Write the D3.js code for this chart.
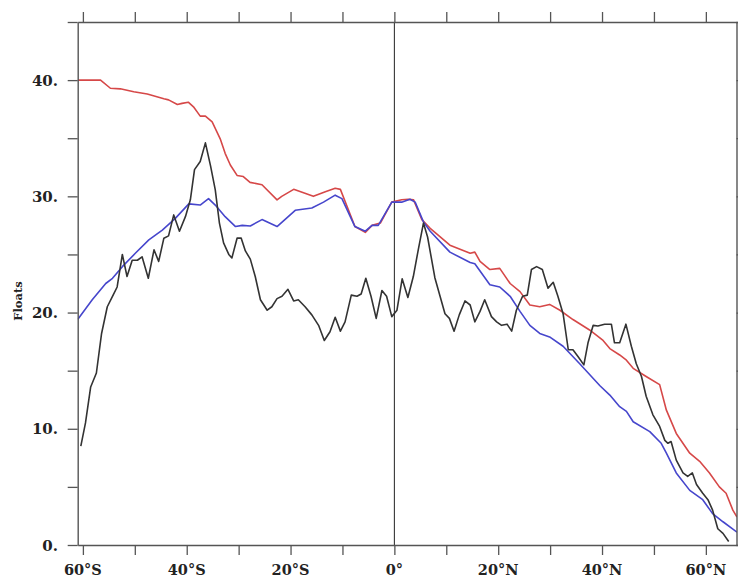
<!DOCTYPE html>
<html>
<head>
<meta charset="utf-8">
<script src="https://cdn.jsdelivr.net/npm/d3@7"></script>
<style>
  html, body { margin: 0; padding: 0; background: #fff; }
  svg { display: block; }
</style>
</head>
<body>
<svg id="chart" width="738" height="579"></svg>
<script>
// ---- data ----
const redLat = [-61, -56.6, -54.7, -52.8, -50.2, -47.6, -44.4, -43.5, -41.8, -40.9, -39.7, -38.7, -37.4, -36.4, -35.1, -33.5, -32.6, -31.6, -30.3, -29.1, -27.8, -25.5, -22.6, -21.7, -19.4, -15.6, -13.3, -11.4, -10.4, -7.6, -5.6, -4.3, -2.7, -0.5, 1.4, 2.7, 3.7, 5.3, 6.9, 10.7, 14.6, 15.5, 16.5, 18.4, 20.3, 22.3, 24.2, 26.1, 28.0, 29.9, 31.9, 34.4, 37.6, 40.2, 41.5, 43.4, 44.7, 46.0, 48.5, 51.1, 52.4, 54.3, 56.9, 58.8, 60.7, 62.6, 63.9, 65.2, 66];
const redVal = [40, 40, 39.3, 39.25, 39.0, 38.8, 38.4, 38.3, 37.9, 38.0, 38.1, 37.7, 36.9, 36.9, 36.4, 34.9, 33.7, 32.7, 31.8, 31.7, 31.2, 31.0, 29.7, 30.0, 30.6, 30.0, 30.4, 30.7, 30.6, 27.4, 26.9, 27.5, 27.7, 29.5, 29.7, 29.75, 29.7, 28.0, 27.25, 25.8, 25.1, 25.2, 24.4, 23.7, 23.8, 22.5, 21.8, 20.65, 20.5, 20.7, 20.2, 19.4, 18.5, 17.6, 16.9, 16.35, 15.9, 15.2, 14.5, 13.8, 11.6, 9.6, 7.9, 7.2, 6.2, 5.0, 4.45, 3.0, 2.4];

const blueLat = [-61, -58.2, -55.6, -54.3, -52.4, -49.9, -47.3, -44.7, -42.2, -39.6, -37.4, -35.8, -34.5, -32.6, -30.6, -29.3, -27.75, -25.5, -22.6, -19.1, -15.9, -13.65, -11.4, -10.1, -7.6, -5.6, -4.3, -3.1, -0.5, 1.4, 3.0, 4.0, 5.6, 6.9, 10.7, 14.6, 15.5, 18.4, 20.3, 22.3, 24.2, 26.1, 28.0, 29.9, 32.5, 35.7, 39.6, 41.5, 43.4, 44.7, 46.0, 49.2, 51.4, 52.4, 54.3, 56.9, 59.4, 61.3, 63.3, 66];
const blueVal = [19.4, 21.1, 22.5, 22.95, 23.95, 25.1, 26.25, 27.1, 28.1, 29.35, 29.25, 29.8, 29.25, 28.25, 27.4, 27.5, 27.45, 28.0, 27.4, 28.8, 29.0, 29.5, 30.1, 29.8, 27.4, 27.0, 27.5, 27.5, 29.5, 29.5, 29.75, 29.5, 27.8, 27.0, 25.2, 24.3, 24.2, 22.4, 22.2, 21.4, 20.1, 18.9, 18.2, 17.9, 17.1, 15.6, 13.7, 12.9, 11.9, 11.5, 10.6, 9.75, 8.75, 7.9, 6.2, 4.7, 3.9, 2.7, 2.0, 1.1];

const blackLat = [-60.4, -59.5, -58.5, -57.4, -56.4, -55.3, -54.3, -53.4, -52.4, -51.5, -50.5, -49.5, -48.6, -47.4, -46.3, -45.4, -44.4, -43.5, -42.5, -41.4, -40.25, -39.3, -38.5, -37.4, -36.4, -35.4, -34.5, -33.7, -32.9, -31.9, -31.3, -30.3, -29.5, -28.7, -27.75, -26.8, -25.8, -24.5, -23.6, -22.6, -21.65, -20.5, -19.4, -18.5, -17.2, -15.9, -14.6, -13.5, -12.4, -11.4, -10.4, -9.5, -8.3, -7.2, -6.4, -5.5, -4.5, -3.5, -2.4, -1.5, -0.5, 0.5, 1.5, 2.6, 3.65, 4.6, 5.6, 6.4, 7.8, 8.8, 9.75, 10.6, 11.5, 12.5, 13.6, 14.6, 15.5, 16.5, 17.4, 18.7, 19.7, 20.65, 21.7, 22.6, 23.5, 24.7, 25.6, 26.4, 27.4, 28.5, 29.6, 30.6, 31.5, 32.5, 33.5, 34.4, 35.4, 36.5, 37.3, 38.3, 39.2, 40.5, 41.8, 42.4, 43.4, 44.6, 45.65, 46.6, 47.6, 48.5, 49.8, 51.1, 52.1, 52.7, 53.3, 54.3, 55.6, 56.5, 57.4, 58.2, 59.4, 60.4, 61.3, 62.3, 63.3, 64.4];
const blackVal = [8.5, 10.5, 13.6, 14.8, 18.2, 20.5, 21.4, 22.2, 25.0, 23.1, 24.5, 24.5, 24.8, 22.95, 25.4, 24.4, 26.4, 26.6, 28.4, 27.0, 28.25, 29.7, 32.3, 33.0, 34.6, 32.6, 30.55, 27.7, 26.0, 25.0, 24.7, 26.4, 26.4, 25.3, 24.6, 23.1, 21.1, 20.2, 20.5, 21.2, 21.4, 22.0, 21.0, 21.1, 20.5, 19.8, 18.9, 17.6, 18.35, 19.6, 18.4, 19.2, 21.5, 21.4, 21.6, 22.95, 21.4, 19.5, 21.9, 21.4, 19.65, 20.2, 22.9, 21.3, 23.1, 25.4, 27.7, 26.5, 23.0, 21.4, 19.9, 19.5, 18.4, 19.8, 21.0, 20.65, 19.2, 20.1, 21.1, 19.65, 19.2, 18.9, 19.0, 18.4, 20.2, 21.4, 21.5, 23.7, 23.95, 23.7, 22.1, 22.6, 21.4, 19.9, 16.8, 16.8, 16.2, 15.5, 17.4, 18.9, 18.85, 19.0, 19.0, 17.4, 17.4, 19.0, 17.1, 15.6, 14.5, 12.8, 11.2, 10.2, 9.0, 8.75, 8.9, 7.3, 6.2, 5.9, 6.2, 5.2, 4.45, 3.9, 3.0, 1.4, 1.0, 0.3];

const xTicks = [-60, -50, -40, -30, -20, -10, 0, 10, 20, 30, 40, 50, 60];
const xTickLabels = {"-60": "60°S", "-40": "40°S", "-20": "20°S", "0": "0°", "20": "20°N", "40": "40°N", "60": "60°N"};
const yTicks = [0, 5, 10, 15, 20, 25, 30, 35, 40, 45];
const yTickLabels = {"0": "0.", "10": "10.", "20": "20.", "30": "30.", "40": "40."};
const yTitle = "Floats";

// ---- layout ----
const svg = d3.select("#chart");
const L = 77.7, R = 737, T = 22, B = 545;
const x = d3.scaleLinear().domain([-61, 66]).range([L, R]);
const y = d3.scaleLinear().domain([0, 45]).range([B, T]);

const axisColor = "#555";
const fontFam = "'DejaVu Serif', serif";

svg.append("clipPath").attr("id", "clip")
  .append("rect").attr("x", L).attr("y", T).attr("width", R - L).attr("height", B - T);

// zero meridian line
svg.append("line")
  .attr("x1", x(0)).attr("x2", x(0)).attr("y1", T).attr("y2", B)
  .attr("stroke", "#222").attr("stroke-width", 1);

// lines
const mk = (lat, val) => lat.map((d, i) => [d, val[i]]);
const line = d3.line().x(d => x(d[0])).y(d => y(d[1]));
const g = svg.append("g").attr("clip-path", "url(#clip)");
g.append("path").datum(mk(redLat, redVal)).attr("d", line)
  .attr("fill", "none").attr("stroke", "#d64848").attr("stroke-width", 1.6).attr("stroke-linejoin", "round");
g.append("path").datum(mk(blueLat, blueVal)).attr("d", line)
  .attr("fill", "none").attr("stroke", "#4646cc").attr("stroke-width", 1.6).attr("stroke-linejoin", "round");
g.append("path").datum(mk(blackLat, blackVal)).attr("d", line)
  .attr("fill", "none").attr("stroke", "#333").attr("stroke-width", 1.6).attr("stroke-linejoin", "round");

// axes
function styleAxis(sel) {
  sel.select(".domain").attr("stroke", axisColor).attr("stroke-width", 1.4);
  sel.selectAll(".tick line").attr("stroke", axisColor).attr("stroke-width", 1.3);
  sel.selectAll(".tick text").remove();
}
svg.append("g").attr("transform", `translate(0,${B})`)
  .call(d3.axisBottom(x).tickValues(xTicks).tickSizeInner(10).tickSizeOuter(0))
  .call(styleAxis);
svg.append("g").attr("transform", `translate(0,${T})`)
  .call(d3.axisTop(x).tickValues(xTicks).tickSizeInner(10).tickSizeOuter(0))
  .call(styleAxis);
svg.append("g").attr("transform", `translate(${L},0)`)
  .call(d3.axisLeft(y).tickValues(yTicks).tickSizeInner(10).tickSizeOuter(0))
  .call(styleAxis);
svg.append("g").attr("transform", `translate(${R - 0.5},0)`)
  .call(d3.axisRight(y).tickValues(yTicks).tickSizeInner(10).tickSizeOuter(0))
  .call(styleAxis);

// tick labels
svg.append("g").selectAll("text")
  .data(xTicks.filter(t => xTickLabels[t] !== undefined))
  .join("text")
  .attr("x", d => x(d)).attr("y", 574.5)
  .attr("text-anchor", "middle")
  .attr("font-family", fontFam).attr("font-weight", "bold").attr("font-size", 14.5)
  .attr("fill", "#222")
  .text(d => xTickLabels[d]);

svg.append("g").selectAll("text")
  .data(yTicks.filter(t => yTickLabels[t] !== undefined))
  .join("text")
  .attr("x", 58).attr("y", d => y(d) + 5.5)
  .attr("text-anchor", "end")
  .attr("font-family", fontFam).attr("font-weight", "bold").attr("font-size", 15)
  .attr("fill", "#222")
  .text(d => yTickLabels[d]);

svg.append("text")
  .attr("transform", `translate(22,${301}) rotate(-90)`)
  .attr("text-anchor", "middle")
  .attr("font-family", fontFam).attr("font-weight", "bold").attr("font-size", 11.5)
  .attr("fill", "#222")
  .text(yTitle);
</script>
</body>
</html>
